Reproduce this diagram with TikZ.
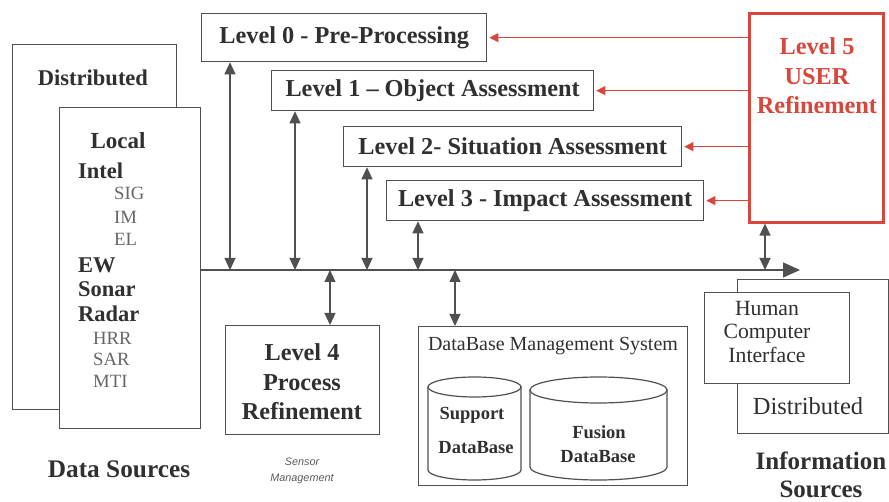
\documentclass[tikz,border=0pt]{standalone}
\usepackage{fontspec}
\setmainfont{Liberation Serif}
\newfontfamily\sensfont{Liberation Sans}
\usetikzlibrary{arrows.meta}
\definecolor{ln}{HTML}{505050}
\definecolor{tx}{HTML}{303030}
\definecolor{rd}{HTML}{D8463C}
\newcommand{\fsz}[2]{\fontsize{#1}{#2}\selectfont}
\begin{document}
\begin{tikzpicture}[x=1pt,y=-1pt,
  box/.style={draw=ln,line width=1.3pt,fill=white,inner sep=0pt,anchor=north west},
  lvl/.style={font=\fsz{24.3}{29.5}\bfseries,text=tx,inner sep=0pt},
  bd/.style={font=\fsz{22.5}{26}\bfseries,text=tx,inner sep=0pt},
  rg/.style={font=\fsz{24.5}{24}\selectfont,text=tx,inner sep=0pt},
  sm/.style={font=\fsz{18.7}{20}\selectfont,text=black!60,inner sep=0pt},
  dbl/.style={draw=ln,line width=1.2pt,{Triangle[length=12pt,width=11pt]}-{Triangle[length=12pt,width=11pt]}},
  redarr/.style={draw=rd,line width=1.1pt,-{Triangle[length=9pt,width=9pt]},shorten >=2pt},
  cyl/.style={draw=ln,line width=1.2pt,fill=white}
]
\useasboundingbox (0,0) rectangle (889,502);

% ---------- Data sources ----------
\node[box,minimum width=164,minimum height=365] (DistL) at (12,44) {};
\node[bd,font=\fsz{22.5}{26}\bfseries] (DistLt) at (93,78) {Distributed};
\node[box,minimum width=141,minimum height=321] (Loc) at (59,107) {};
\node[bd,font=\fsz{23}{26}\bfseries] (locT) at (118,141) {Local};
\node[bd,anchor=west] (intel) at (78,171) {Intel};
\node[sm,anchor=west] (sig) at (114,193) {SIG};
\node[sm,anchor=west] (im) at (114,217) {IM};
\node[sm,anchor=west] (el) at (114,239) {EL};
\node[bd,anchor=west] (ew) at (78,265) {EW};
\node[bd,anchor=west] (sonar) at (78,289) {Sonar};
\node[bd,anchor=west] (radar) at (78,314) {Radar};
\node[sm,anchor=west] (hrr) at (93,338) {HRR};
\node[sm,anchor=west] (sar) at (93,359) {SAR};
\node[sm,anchor=west] (mti) at (93,381) {MTI};
\node[lvl,font=\fsz{25.3}{29}\bfseries] (dsrc) at (119,469) {Data Sources};

% ---------- Levels 0-3 ----------
\node[box,lvl,minimum width=285,minimum height=48] (L0) at (201,13) {Level 0 - Pre-Processing};
\node[box,lvl,minimum width=322,minimum height=40] (L1) at (271,70) {Level 1 – Object Assessment};
\node[box,lvl,minimum width=338,minimum height=40] (L2) at (343,126) {Level 2- Situation Assessment};
\node[box,lvl,minimum width=317,minimum height=40] (L3) at (386,180) {Level 3 - Impact Assessment};

% ---------- Level 5 ----------
\node[box,draw=rd,line width=2.6pt,minimum width=134,minimum height=209] (L5) at (748,12) {};
\node[lvl,text=rd,align=center] (L5t) at (817,76) {Level 5\\USER\\Refinement};

% ---------- bus ----------
\coordinate (busE) at (800,270);
\draw[draw=ln,line width=1.3pt,-{Triangle[length=17pt,width=15pt]}] (Loc.east |- busE) -- (busE);
\coordinate (b0) at (230,270);
\coordinate (b1) at (295,270);
\coordinate (b2) at (367,270);
\coordinate (b3) at (418,270);
\coordinate (b4) at (330,270);
\coordinate (b5) at (455,270);
\coordinate (b6) at (765,270);
\draw[dbl] (L0.south -| b0) -- (b0);
\draw[dbl] (L1.south -| b1) -- (b1);
\draw[dbl] (L2.south -| b2) -- (b2);
\draw[dbl] (L3.south -| b3) -- (b3);
\draw[dbl] (L5.south -| b6) -- (b6);

% red arrows
\draw[redarr] (L5.west |- L0.east) -- (L0.east);
\draw[redarr] (L5.west |- L1.east) -- (L1.east);
\draw[redarr] (L5.west |- L2.east) -- (L2.east);
\draw[redarr] (L5.west |- L3.east) -- (L3.east);

% ---------- Level 4 ----------
\node[box,minimum width=154,minimum height=109] (L4) at (225,325) {};
\node[lvl,align=center] (L4t) at (302,382) {Level 4\\Process\\Refinement};
\draw[dbl] (b4) -- (b4 |- L4.north);
\node[font=\sensfont\itshape\fsz{10.8}{16},text=black!65,align=center,inner sep=0pt] (sens) at (302,471) {Sensor\\Management};

% ---------- DBMS ----------
\node[box,minimum width=269,minimum height=159] (DB) at (418,326) {};
\node[rg,font=\fsz{20}{22}\selectfont] (DBt) at (553,346) {DataBase Management System};
\draw[dbl] (b5) -- (b5 |- DB.north);
% support cylinder
\path[cyl] (428,387) -- (428,470) arc[start angle=180,end angle=360,x radius=46.5pt,y radius=10pt] -- (521,387) -- cycle;
\draw[cyl] (474.5,387) ellipse [x radius=46.5pt,y radius=10pt];
\node[bd,font=\fsz{18.5}{22}\bfseries] (sup1) at (472,415) {Support};
\node[bd,font=\fsz{18.5}{22}\bfseries] (sup2) at (476,448) {DataBase};
% fusion cylinder
\path[cyl] (530,390) -- (530,467) arc[start angle=180,end angle=360,x radius=68.5pt,y radius=13pt] -- (667,390) -- cycle;
\draw[cyl] (598.5,390) ellipse [x radius=68.5pt,y radius=13pt];
\node[bd,font=\fsz{18.5}{22}\bfseries] (fus1) at (599,432) {Fusion};
\node[bd,font=\fsz{18.5}{22}\bfseries] (fus2) at (598,457) {DataBase};

% ---------- Information sources ----------
\node[box,minimum width=151,minimum height=154] (InfD) at (737,279) {};
\node[rg,font=\fsz{24.5}{26}\selectfont] (InfDt) at (808,406) {Distributed};
\node[box,minimum width=145,minimum height=91] (HCI) at (704,292) {};
\node[rg,font=\fsz{21.7}{23.5}\selectfont,align=center] (HCIt) at (767,332) {Human\\Computer\\Interface};
\node[lvl,font=\fsz{25}{28}\bfseries,align=center] (isrc) at (821,475) {Information\\Sources};
\end{tikzpicture}
\end{document}
